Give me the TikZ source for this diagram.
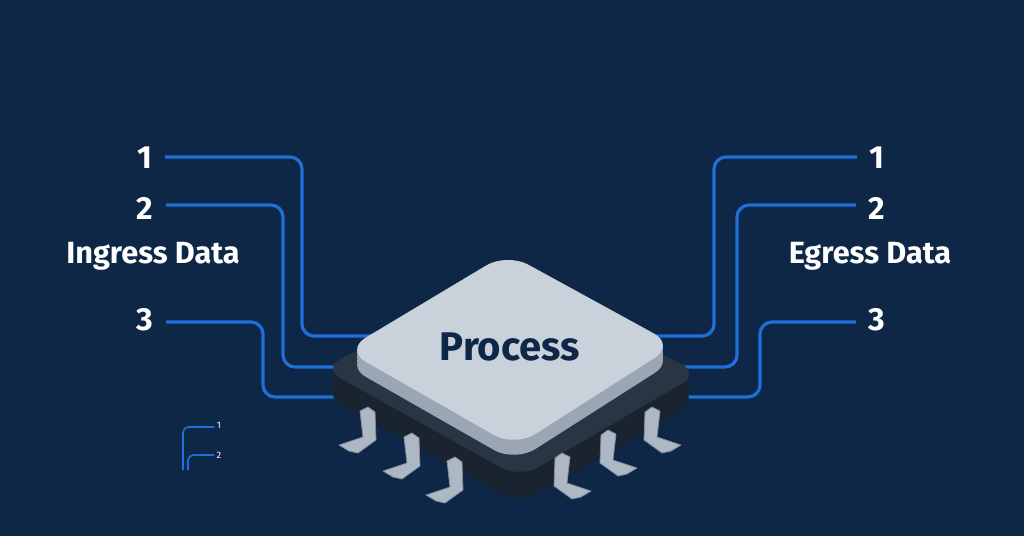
\documentclass[tikz,border=0pt]{standalone}
\usepackage{fontspec}
\setmainfont{Fira Sans}
\usetikzlibrary{positioning}
\definecolor{navy}{HTML}{0E2747}
\definecolor{wire}{HTML}{1F6FD8}
\definecolor{facegray}{HTML}{C9D1DB}
\definecolor{sidegray}{HTML}{9AA6B4}
\definecolor{basedark}{HTML}{2A3544}
\definecolor{basedeep}{HTML}{1A2330}
\definecolor{pingray}{HTML}{AEB8C4}
\definecolor{pinside}{HTML}{7F8B99}
\tikzset{
  wireline/.style={draw=wire, line width=2.4pt, rounded corners=9pt},
  numlabel/.style={text=white, font=\fontsize{24}{26}\selectfont\bfseries},
  sidelabel/.style={text=white, font=\fontsize{23}{26}\selectfont\bfseries},
  pin/.style={fill=pingray, draw=pinside, line width=0.6pt, line join=round},
}
\newcommand\chipface{(345,350) -- (507,253) -- (675,345) -- (515,447) -- cycle}
\newcommand\chipbase{(322,368) -- (505,278) -- (700,373) -- (520,478) -- cycle}
\begin{document}
\begin{tikzpicture}[x=0.75pt, y=-0.75pt]
  \fill[navy] (0,0) rectangle (1024,536);
  \useasboundingbox (0,0) rectangle (1024,536);

  % labels
  \node[numlabel] (in1) at (145,158) {1};
  \node[numlabel] (in2) at (145,208) {2};
  \node[sidelabel] (ingress) at (153,256) {Ingress Data};
  \node[numlabel] (in3) at (145,320) {3};
  \node[numlabel] (out1) at (877,158) {1};
  \node[numlabel] (out2) at (877,208) {2};
  \node[sidelabel] (egress) at (870,256) {Egress Data};
  \node[numlabel] (out3) at (877,320) {3};

  % chip ports
  \coordinate (pl1) at (390,336);
  \coordinate (pl2) at (350,367);
  \coordinate (pl3) at (345,397);
  \coordinate (pr1) at (630,336);
  \coordinate (pr2) at (675,367);
  \coordinate (pr3) at (680,397);

  % wires
  \draw[wireline] (in1.east |- 0,157) ++(8,0) -- (302,157) -- (302,336) -- (pl1);
  \draw[wireline] (in2.east |- 0,205) ++(8,0) -- (283,205) -- (283,367) -- (pl2);
  \draw[wireline] (in3.east |- 0,322) ++(8,0) -- (263,322) -- (263,397) -- (pl3);
  \draw[wireline] (out1.west |- 0,157) ++(-8,0) -- (714,157) -- (714,336) -- (pr1);
  \draw[wireline] (out2.west |- 0,205) ++(-8,0) -- (737,205) -- (737,367) -- (pr2);
  \draw[wireline] (out3.west |- 0,322) ++(-8,0) -- (760,322) -- (760,397) -- (pr3);

  % small legend
  \draw[draw=wire, line width=1.2pt, rounded corners=4pt] (214,427) -- (183,427) -- (183,470);
  \draw[draw=wire, line width=1.2pt, rounded corners=4pt] (214,455) -- (188,455) -- (188,470);
  \node[text=white, font=\scriptsize, inner sep=1pt] (leg1) at (219,425) {1};
  \node[text=white, font=\scriptsize, inner sep=1pt] (leg2) at (219,455) {2};

  % chip base
  \foreach \dy in {26,20,14,7} {
    \fill[basedeep, rounded corners=16pt, yshift=-\dy*0.75pt] \chipbase;
  }
  \fill[basedark, rounded corners=16pt] \chipbase;

  % pins
  \foreach \px/\py in {363/437, 407/463, 450/487} {
    \filldraw[pin] (\px,\py) -- (\px-3,\py-26) -- (\px+5,\py-30) -- (\px+12,\py-25) -- (\px+13,\py+3) -- (\px-5,\py+16) -- (\px-14,\py+14) -- (\px-24,\py+8) -- cycle;
  }
  \foreach \px/\py in {567/483, 613/460, 657/437} {
    \filldraw[pin] (\px,\py) -- (\px+3,\py-26) -- (\px-5,\py-30) -- (\px-12,\py-25) -- (\px-13,\py+3) -- (\px+5,\py+16) -- (\px+14,\py+14) -- (\px+24,\py+8) -- cycle;
  }

  % chip top
  \foreach \dy in {15,11,7,3} {
    \fill[sidegray, rounded corners=18pt, yshift=-\dy*0.75pt] \chipface;
  }
  \fill[facegray, rounded corners=18pt] \chipface;
  \node[text=navy, font=\fontsize{30}{32}\selectfont\bfseries] (chip) at (510,347) {Process};
\end{tikzpicture}
\end{document}
